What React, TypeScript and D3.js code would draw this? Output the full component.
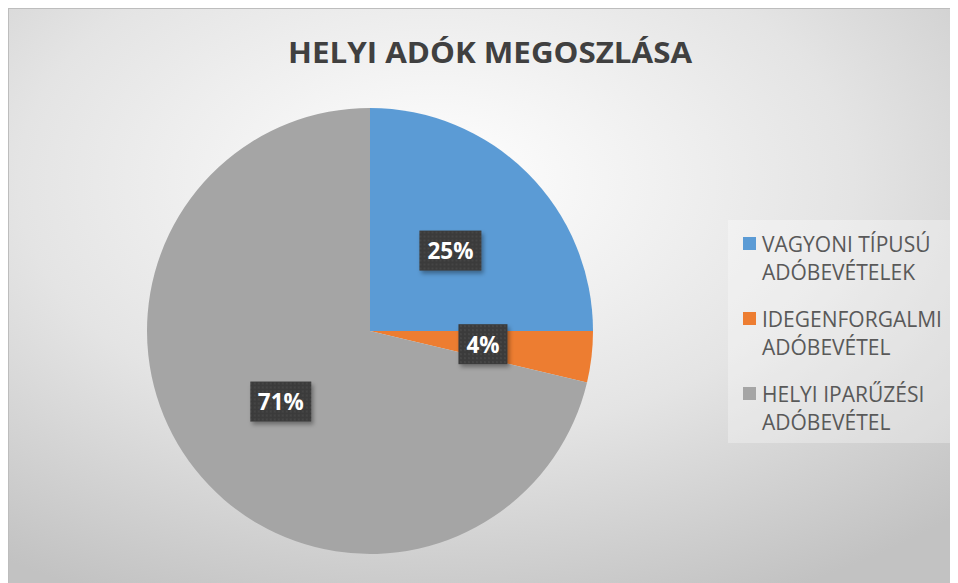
import * as d3 from "d3";

const categories = ["VAGYONI TÍPUSÚ ADÓBEVÉTELEK", "IDEGENFORGALMI ADÓBEVÉTEL", "HELYI IPARŰZÉSI ADÓBEVÉTEL"];
const legendLines = [
  ["VAGYONI TÍPUSÚ", "ADÓBEVÉTELEK"],
  ["IDEGENFORGALMI", "ADÓBEVÉTEL"],
  ["HELYI IPARŰZÉSI", "ADÓBEVÉTEL"],
];
const values = [25.0, 3.7, 71.3];
const labels = ["25%", "4%", "71%"];
const colors = ["#5B9BD5", "#ED7D31", "#A5A5A5"];

const W = 950;
const H = 575;
const cx = 362;
const cy = 323;
const radius = 223;

export default function App() {
  const pie = d3.pie<number>().sort(null).value((d) => d)(values);
  const arc = d3.arc<d3.PieArcDatum<number>>().innerRadius(0).outerRadius(radius);
  const labelArc = d3
    .arc<d3.PieArcDatum<number>>()
    .innerRadius(radius * 0.51)
    .outerRadius(radius * 0.51);
  const labelW = [62, 49, 61];
  const font = "'Open Sans', sans-serif";

  return (
    <svg width={W} height={H} style={{ display: "block", overflow: "hidden" }}>
      <defs>
        <radialGradient id="bg" cx="45%" cy="30%" r="80%">
          <stop offset="0%" stopColor="#ffffff" />
          <stop offset="55%" stopColor="#e4e4e4" />
          <stop offset="100%" stopColor="#c2c2c2" />
        </radialGradient>
        <pattern id="dots" width="4" height="4" patternUnits="userSpaceOnUse">
          <rect width="4" height="4" fill="#3b3b3b" />
          <circle cx="2" cy="2" r="0.7" fill="#575757" />
        </pattern>
        <filter id="shadow" x="-20%" y="-20%" width="150%" height="160%">
          <feDropShadow dx="2" dy="3" stdDeviation="2" floodColor="#000" floodOpacity="0.35" />
        </filter>
      </defs>
      <rect x={0.5} y={0.5} width={W - 1} height={H} fill="url(#bg)" stroke="#bdbdbd" />

      <text
        x={482}
        y={55}
        textAnchor="middle"
        fontFamily={font}
        fontWeight={700}
        fontSize={29}
        fill="#404040"
        textLength={404}
        lengthAdjust="spacingAndGlyphs"
      >
        HELYI ADÓK MEGOSZLÁSA
      </text>

      <g transform={`translate(${cx},${cy})`}>
        {pie.map((d, i) => (
          <path key={categories[i]} d={arc(d) ?? ""} fill={colors[i]} />
        ))}
        {pie.map((d, i) => {
          const [lx, ly] = labelArc.centroid(d);
          return (
            <g key={labels[i]} transform={`translate(${lx},${ly})`}>
              <rect
                x={-labelW[i] / 2}
                y={-20}
                width={labelW[i]}
                height={40}
                fill="url(#dots)"
                filter="url(#shadow)"
              />
              <text
                y={8.5}
                textAnchor="middle"
                fontFamily={font}
                fontWeight={700}
                fontSize={22.5}
                fill="#ffffff"
              >
                {labels[i]}
              </text>
            </g>
          );
        })}
      </g>

      <rect x={720} y={212} width={226} height={223} fill="#ffffff" fillOpacity={0.3} />
      {legendLines.map((lines, i) => (
        <g key={categories[i]} transform={`translate(735,${229 + i * 75})`}>
          <rect x={0} y={0} width={13} height={13} fill={colors[i]} />
          {lines.map((t, j) => (
            <text
              key={j}
              x={19}
              y={15 + j * 28.3}
              fontFamily={font}
              fontSize={21}
              fill="#595959"
            >
              {t}
            </text>
          ))}
        </g>
      ))}
    </svg>
  );
}
